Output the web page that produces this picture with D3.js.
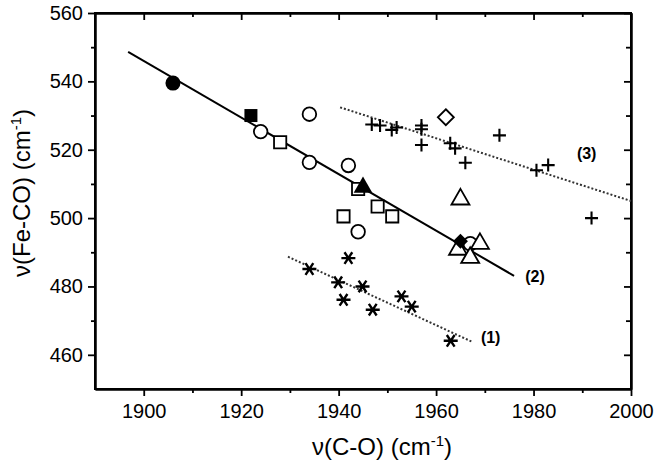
<!DOCTYPE html>
<html>
<head>
<meta charset="utf-8">
<script src="https://cdn.jsdelivr.net/npm/d3@7"></script>
<style>
  body { margin: 0; background: #fff; }
  svg { display: block; font-family: "Liberation Sans", Arial, sans-serif; }
</style>
</head>
<body>
<svg id="chart" width="659" height="465"></svg>
<script>
// ---- data ----
const xDomain = [1890, 2000];
const yDomain = [450, 560];
const xTicks = [1900, 1920, 1940, 1960, 1980, 2000];
const xMinorTicks = [1910, 1930, 1950, 1970, 1990];
const yTicks = [460, 480, 500, 520, 540, 560];
const yMinorTicks = [470, 490, 510, 530, 550];

const filledCircle = [[1906, 539.5]];
const filledSquare = [[1922, 530]];
const openCircle = [[1924, 525.3], [1934, 530.4], [1934, 516.3], [1942, 515.4], [1944, 496], [1967, 492.5]];
const openSquare = [[1928, 522.2], [1941, 500.5], [1944, 508.5], [1948, 503.4], [1951, 500.5]];
const filledTriangle = [[1945, 509]];
const openTriangle = [[1965, 505.5], [1969, 492.5], [1964.5, 490.8], [1967, 488.4]];
const filledDiamond = [[1965, 493.2]];
const openDiamond = [[1962, 529.5]];
const asterisks = [[1934, 485.1], [1942, 488.3], [1939.9, 481.2], [1944.9, 480], [1941, 476.1], [1947, 473.2], [1952.9, 477.1], [1955, 474.1], [1963, 464.1]];
const pluses = [[1946.8, 527.4], [1948.5, 527.1], [1950.9, 525.8], [1951.9, 526.5], [1957, 527.1], [1957, 526], [1957, 521.4], [1962.9, 521.9], [1963.9, 520.4], [1966, 516.2], [1973, 524.2], [1980.6, 514], [1983, 515.5], [1991.9, 500]];

const line1 = [[1929.6, 488.7], [1967.4, 463.8]];
const line2 = [[1896.8, 548.6], [1976, 483.1]];
const line3 = [[1940.3, 532.4], [2000, 505]];
const lineLabels = [["(1)", 1971.2, 465.2], ["(2)", 1980.3, 482.9], ["(3)", 1990.9, 518.8]];

// ---- layout ----
const W = 659, H = 465;
const m = { left: 95, top: 13, right: 28, bottom: 76 };
const svg = d3.select("#chart");
const x = d3.scaleLinear().domain(xDomain).range([m.left, W - m.right]);
const y = d3.scaleLinear().domain(yDomain).range([H - m.bottom, m.top]);
const X0 = x.range()[0], X1 = x.range()[1], Y0 = y.range()[0], Y1 = y.range()[1];

// axes
svg.append("g").attr("transform", `translate(0,${Y0})`)
  .call(d3.axisBottom(x).tickValues(xTicks).tickSize(7).tickPadding(8).tickSizeOuter(0).tickFormat(d3.format("d")));
svg.append("g").attr("transform", `translate(${X0},0)`)
  .call(d3.axisLeft(y).tickValues(yTicks).tickSize(7).tickPadding(5).tickSizeOuter(0).tickFormat(d3.format("d")));
svg.append("g").attr("transform", `translate(0,${Y1})`)
  .call(d3.axisBottom(x).tickValues(xTicks).tickSize(7).tickSizeOuter(0).tickFormat(""));
svg.append("g").attr("transform", `translate(${X1},0)`)
  .call(d3.axisLeft(y).tickValues(yTicks).tickSize(7).tickSizeOuter(0).tickFormat(""));
// minor ticks
svg.append("g").attr("transform", `translate(0,${Y0})`).call(d3.axisBottom(x).tickValues(xMinorTicks).tickSize(4).tickSizeOuter(0).tickFormat(""));
svg.append("g").attr("transform", `translate(0,${Y1})`).call(d3.axisBottom(x).tickValues(xMinorTicks).tickSize(4).tickSizeOuter(0).tickFormat(""));
svg.append("g").attr("transform", `translate(${X0},0)`).call(d3.axisLeft(y).tickValues(yMinorTicks).tickSize(4).tickSizeOuter(0).tickFormat(""));
svg.append("g").attr("transform", `translate(${X1},0)`).call(d3.axisLeft(y).tickValues(yMinorTicks).tickSize(5).tickSizeOuter(0).tickFormat(""));

svg.selectAll(".domain").attr("stroke", "#000").attr("stroke-width", 2);
svg.selectAll(".tick line").attr("stroke", "#000").attr("stroke-width", 1.8);
svg.selectAll(".tick text").attr("font-size", 20).attr("fill", "#000");

// frame
svg.append("rect").attr("x", X0).attr("y", Y1).attr("width", X1 - X0).attr("height", Y0 - Y1)
  .attr("fill", "none").attr("stroke", "#000").attr("stroke-width", 2);

// axis titles
const xt = svg.append("text").attr("x", 382).attr("y", 455).attr("text-anchor", "middle")
  .attr("font-size", 24).attr("fill", "#000");
xt.append("tspan").text("ν(C-O) (cm");
xt.append("tspan").attr("dy", -9).attr("font-size", 15).text("-1");
xt.append("tspan").attr("dy", 9).text(")");

const yt = svg.append("text").attr("transform", `translate(30,${(Y0 + Y1) / 2 - 8}) rotate(-90)`)
  .attr("text-anchor", "middle").attr("font-size", 24).attr("fill", "#000");
yt.append("tspan").text("ν(Fe-CO) (cm");
yt.append("tspan").attr("dy", -9).attr("font-size", 15).text("-1");
yt.append("tspan").attr("dy", 9).text(")");

// fit lines
const lg = d3.line().x(d => x(d[0])).y(d => y(d[1]));
svg.append("path").attr("d", lg(line1)).attr("fill", "none").attr("stroke", "#333").attr("stroke-width", 2).attr("stroke-dasharray", "2,2");
svg.append("path").attr("d", lg(line3)).attr("fill", "none").attr("stroke", "#333").attr("stroke-width", 2).attr("stroke-dasharray", "2,2");
svg.append("path").attr("d", lg(line2)).attr("fill", "none").attr("stroke", "#000").attr("stroke-width", 2);

// markers
const sw = 1.8;
function plusPath(s) { return `M${-s},0H${s}M0,${-s}V${s}`; }
function asteriskPath(s) {
  const a = s * Math.cos(Math.PI / 3.2), b = s * Math.sin(Math.PI / 3.2);
  return `M${-s},0H${s}M${-a},${-b}L${a},${b}M${-a},${b}L${a},${-b}`;
}
function diamondPath(s) { return `M0,${-s}L${s},0L0,${s}L${-s},0Z`; }
const tr = d => `translate(${x(d[0])},${y(d[1])})`;

svg.append("g").selectAll("path").data(asterisks).join("path")
  .attr("transform", tr).attr("d", asteriskPath(7)).attr("stroke", "#000").attr("stroke-width", 2.4).attr("fill", "none");
svg.append("g").selectAll("path").data(pluses).join("path")
  .attr("transform", tr).attr("d", plusPath(6.5)).attr("stroke", "#000").attr("stroke-width", 2.1).attr("fill", "none");

svg.append("g").selectAll("path").data(openSquare).join("path")
  .attr("transform", tr).attr("d", d3.symbol(d3.symbolSquare, 150)()).attr("stroke", "#000").attr("stroke-width", sw).attr("fill", "#fff");
svg.append("g").selectAll("path").data(openCircle).join("path")
  .attr("transform", tr).attr("d", d3.symbol(d3.symbolCircle, Math.PI * 6.8 * 6.8)()).attr("stroke", "#000").attr("stroke-width", sw).attr("fill", "#fff");
svg.append("g").selectAll("path").data(openTriangle).join("path")
  .attr("transform", tr).attr("d", d3.symbol(d3.symbolTriangle, 140)()).attr("stroke", "#000").attr("stroke-width", sw).attr("fill", "#fff");
svg.append("g").selectAll("path").data(openDiamond).join("path")
  .attr("transform", tr).attr("d", diamondPath(8)).attr("stroke", "#000").attr("stroke-width", sw).attr("fill", "#fff");

svg.append("g").selectAll("path").data(filledCircle).join("path")
  .attr("transform", tr).attr("d", d3.symbol(d3.symbolCircle, Math.PI * 7.5 * 7.5)()).attr("fill", "#000");
svg.append("g").selectAll("path").data(filledSquare).join("path")
  .attr("transform", tr).attr("d", d3.symbol(d3.symbolSquare, 169)()).attr("fill", "#000");
svg.append("g").selectAll("path").data(filledTriangle).join("path")
  .attr("transform", tr).attr("d", d3.symbol(d3.symbolTriangle, 150)()).attr("fill", "#000");
svg.append("g").selectAll("path").data(filledDiamond).join("path")
  .attr("transform", tr).attr("d", diamondPath(7.5)).attr("fill", "#000");

// line labels
svg.append("g").selectAll("text").data(lineLabels).join("text")
  .attr("x", d => x(d[1])).attr("y", d => y(d[2])).attr("dy", "0.35em")
  .attr("text-anchor", "middle").attr("font-size", 16).attr("font-weight", "bold").attr("fill", "#000")
  .text(d => d[0]);
</script>
</body>
</html>
